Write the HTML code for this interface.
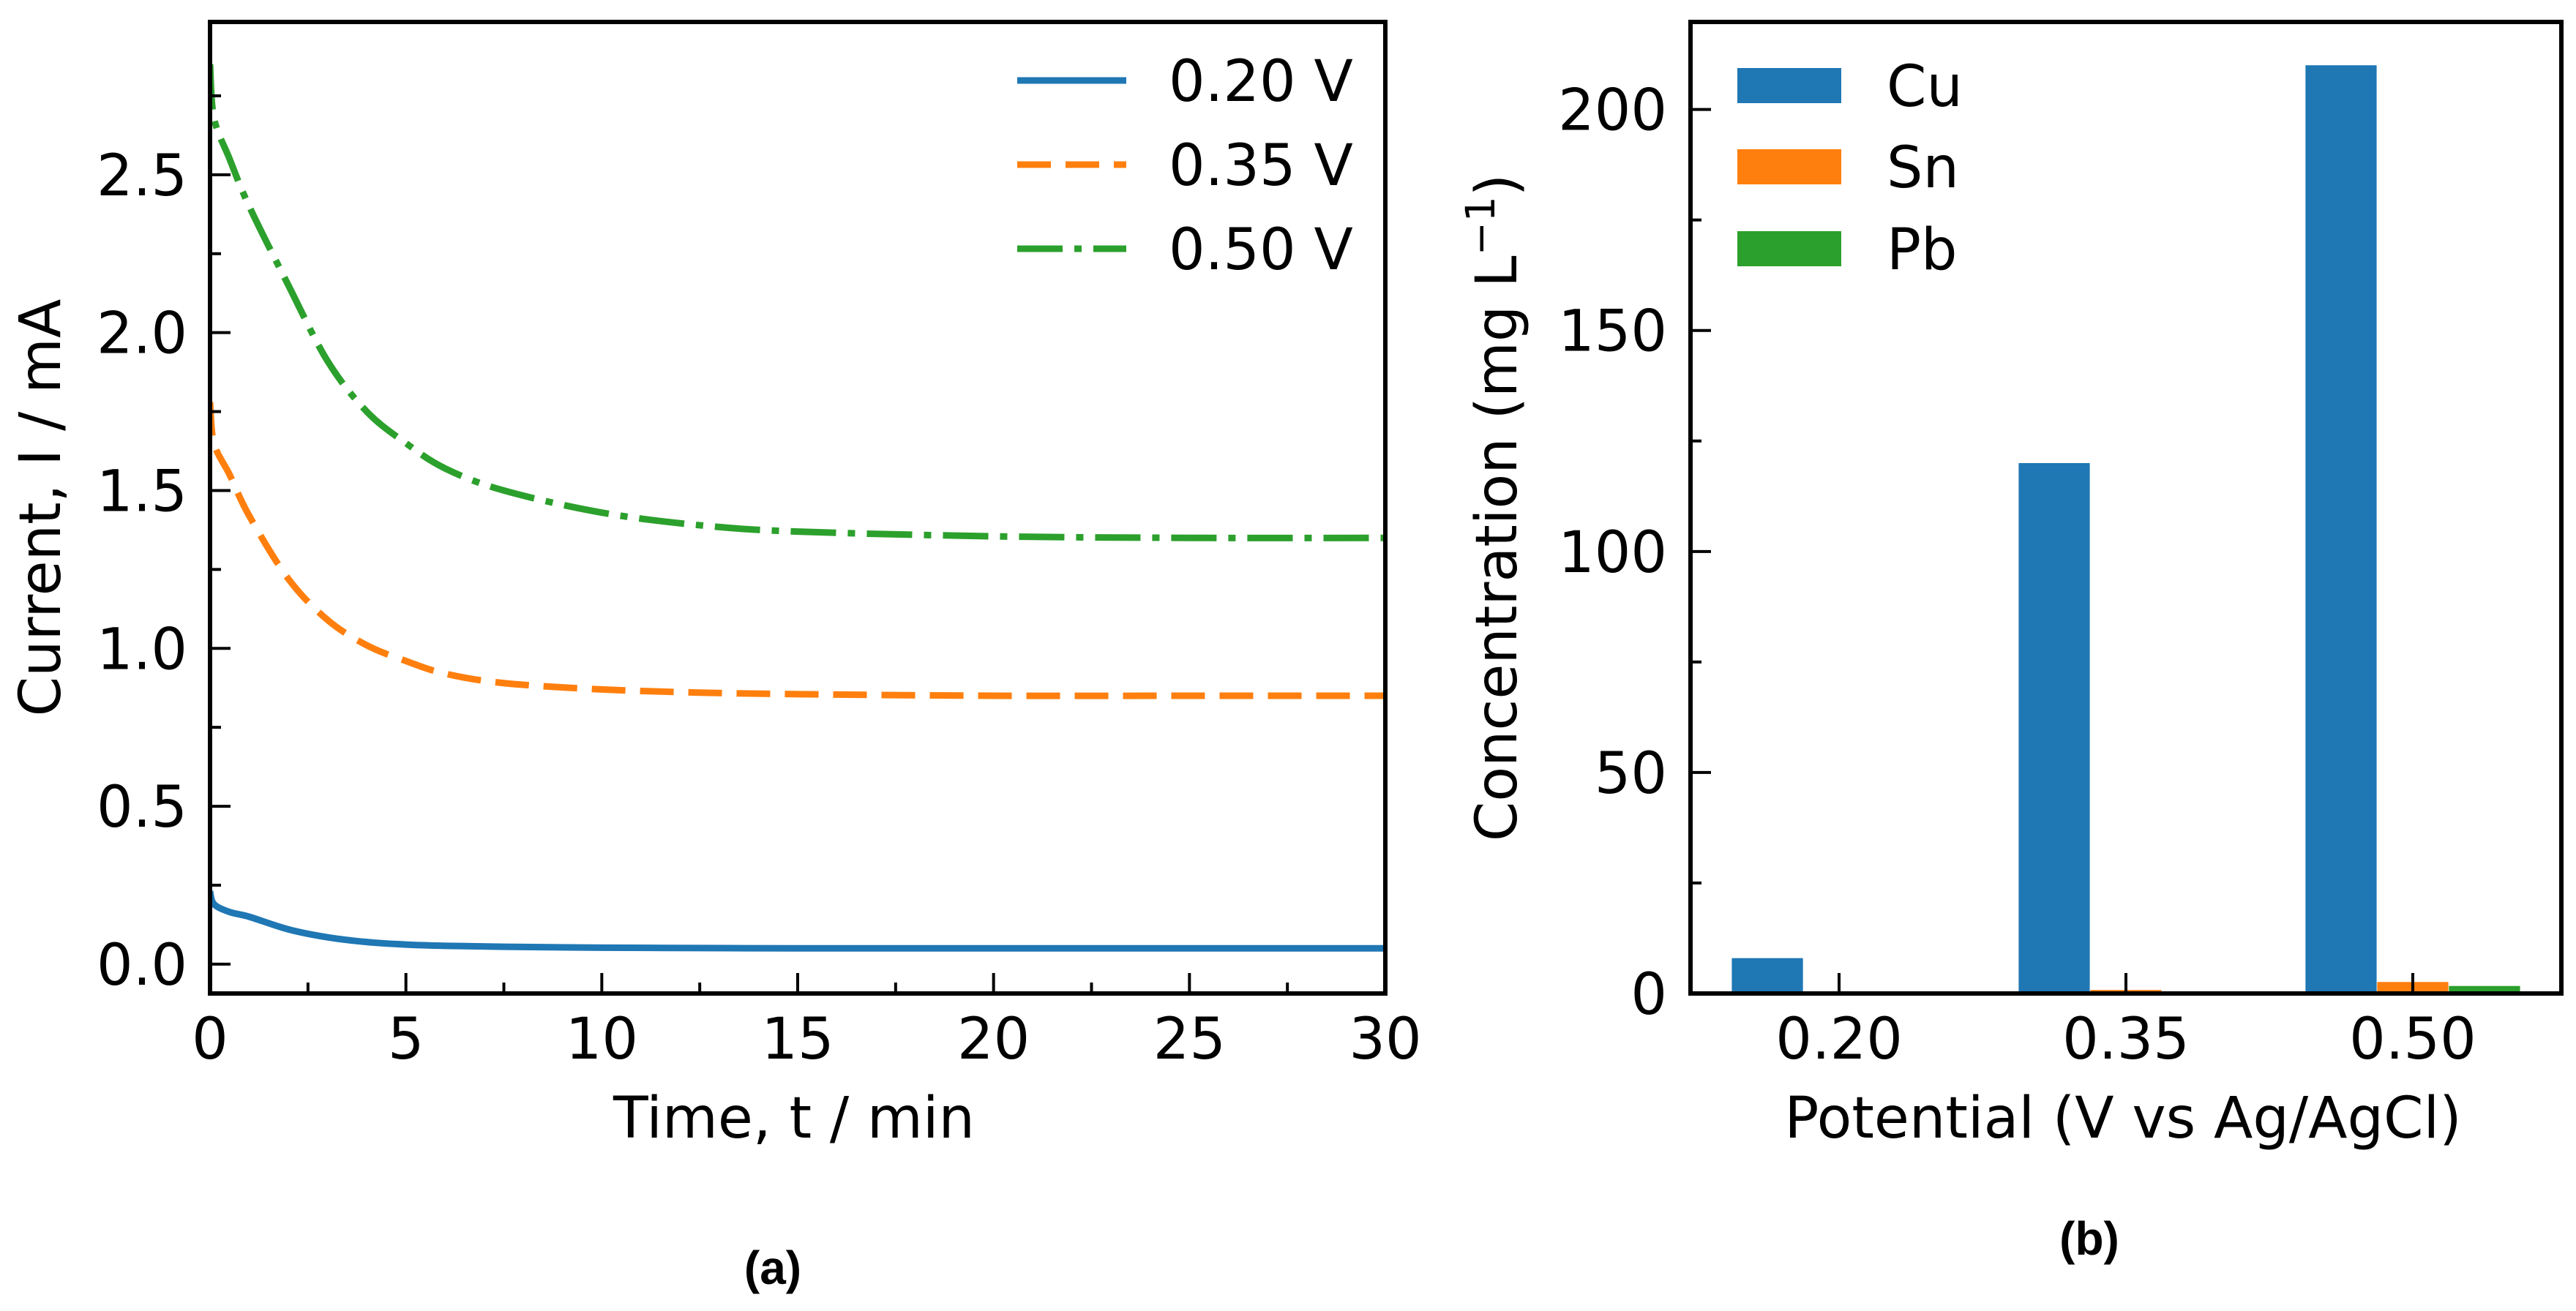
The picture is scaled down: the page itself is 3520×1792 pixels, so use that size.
<!DOCTYPE html>
<html><head><meta charset="utf-8"><style>
html,body{margin:0;padding:0;background:#fff}
svg{display:block}
text{font-family:"DejaVu Sans","Liberation Sans",sans-serif;fill:#000}
</style></head><body>
<svg id="fig" width="3520" height="1792" viewBox="0 0 3520 1792" xmlns="http://www.w3.org/2000/svg">
<g id="chartA"></g>
<g id="chartB"></g>
<text x="1056" y="1755" text-anchor="middle" font-size="64" font-weight="bold" style="font-family:'Liberation Sans',sans-serif">(a)</text>
<text x="2855" y="1715" text-anchor="middle" font-size="64" font-weight="bold" style="font-family:'Liberation Sans',sans-serif">(b)</text>
</svg>
<script>
// ---- Chart A data ----
const timeMin = [0, 0.1, 0.5, 1, 2, 3, 4, 5, 6, 7.5, 10, 12.5, 15, 20, 25, 30];
const current020 = [0.23, 0.19, 0.165, 0.15, 0.11, 0.085, 0.07, 0.062, 0.058, 0.055, 0.052, 0.051, 0.05, 0.05, 0.05, 0.05];
const current035 = [1.78, 1.65, 1.55, 1.42, 1.22, 1.09, 1.01, 0.96, 0.92, 0.89, 0.87, 0.86, 0.855, 0.85, 0.85, 0.85];
const current050 = [2.85, 2.68, 2.55, 2.40, 2.15, 1.91, 1.75, 1.65, 1.57, 1.50, 1.43, 1.39, 1.37, 1.355, 1.35, 1.35];
const xTicksA = [0, 5, 10, 15, 20, 25, 30];
const yTicksA = [0.0, 0.5, 1.0, 1.5, 2.0, 2.5];
const legendA = ["0.20 V", "0.35 V", "0.50 V"];
// ---- Chart B data ----
const potentials = ["0.20", "0.35", "0.50"];
const cuValues = [8, 120, 210];
const snValues = [0, 0.8, 2.6];
const pbValues = [0, 0, 1.7];
const yTicksB = [0, 50, 100, 150, 200];
const legendB = ["Cu", "Sn", "Pb"];

const NS = "http://www.w3.org/2000/svg";
function mk(parent, tag, attrs) {
  const e = document.createElementNS(NS, tag);
  for (const k in attrs) e.setAttribute(k, attrs[k]);
  parent.appendChild(e);
  return e;
}
const C = ["#1f77b4", "#ff7f0e", "#2ca02c"];

// ---- Chart A ----
(function () {
  const g = document.getElementById("chartA");
  const L = 287, R = 1893, T = 30, B = 1358;
  const xmin = 0, xmax = 30, ymin = -0.093, ymax = 2.984;
  const sx = v => L + (v - xmin) / (xmax - xmin) * (R - L);
  const sy = v => B - (v - ymin) / (ymax - ymin) * (B - T);
  const series = [current020, current035, current050];
  const dashes = ["none", "46 20", "62 16 10 16"];
  const names = ["line-0-20v", "line-0-35v", "line-0-50v"];
  const clip = mk(g, "clipPath", {id: "clipA"});
  mk(clip, "rect", {x: L, y: T, width: R - L, height: B - T});
  series.forEach((s, i) => {
    const pts = timeMin.map((t, j) => [sx(t), sy(s[j])]);
    let d = "M" + pts[0][0] + "," + pts[0][1];
    for (let j = 0; j < pts.length - 1; j++) {
      const p0 = pts[Math.max(0, j - 1)], p1 = pts[j], p2 = pts[j + 1], p3 = pts[Math.min(pts.length - 1, j + 2)];
      const c1x = p1[0] + (p2[0] - p0[0]) / 6, c1y = p1[1] + (p2[1] - p0[1]) / 6;
      const c2x = p2[0] - (p3[0] - p1[0]) / 6, c2y = p2[1] - (p3[1] - p1[1]) / 6;
      d += " C" + c1x + "," + c1y + " " + c2x + "," + c2y + " " + p2[0] + "," + p2[1];
    }
    const p = mk(g, "path", {d: d, fill: "none", stroke: C[i], "stroke-width": 9, "stroke-dasharray": dashes[i], "clip-path": "url(#clipA)"});
    
    
  });
  for (let v = 0; v <= 30; v += 2.5) {
    const maj = xTicksA.includes(v);
    const t = mk(g, "line", {x1: sx(v), x2: sx(v), y1: B, y2: B - (maj ? 28 : 15), stroke: "#000", "stroke-width": 4});
    
    
  }
  xTicksA.forEach(v => {
    const t = mk(g, "text", {x: sx(v), y: 1447, "text-anchor": "middle", "font-size": 78});
    t.textContent = String(v);
    
    
  });
  for (let k = 0; k <= 11; k++) {
    const v = k * 0.25;
    const maj = k % 2 === 0;
    const t = mk(g, "line", {x1: L, x2: L + (maj ? 28 : 15), y1: sy(v), y2: sy(v), stroke: "#000", "stroke-width": 4});
    
    
  }
  yTicksA.forEach(v => {
    const t = mk(g, "text", {x: 256, y: sy(v) + 28, "text-anchor": "end", "font-size": 78});
    t.textContent = v.toFixed(1);
    
    
  });
  const fr = mk(g, "rect", {x: L, y: T, width: R - L, height: B - T, fill: "none", stroke: "#000", "stroke-width": 6});
  
  
  const xl = mk(g, "text", {x: 1085, y: 1555, "text-anchor": "middle", "font-size": 78});
  xl.textContent = "Time, t / min";
  
  
  const yl = mk(g, "text", {x: 0, y: 0, "text-anchor": "middle", "font-size": 78, transform: "translate(82,694) rotate(-90)"});
  yl.textContent = "Current, I / mA";
  
  
  const rows = [110, 225, 340];
  legendA.forEach((s, i) => {
    const ln = mk(g, "line", {x1: 1390, x2: 1539, y1: rows[i], y2: rows[i], stroke: C[i], "stroke-width": 9, "stroke-dasharray": dashes[i]});
    
    
    const t = mk(g, "text", {x: 1597, y: rows[i] + 28, "font-size": 78});
    t.textContent = s;
    
    
  });
})();

// ---- Chart B ----
(function () {
  const g = document.getElementById("chartB");
  const L = 2310, R = 3500, T = 30, B = 1358;
  const xmin = -0.518, xmax = 2.518, ymin = 0, ymax = 219.8;
  const sx = v => L + (v - xmin) / (xmax - xmin) * (R - L);
  const sy = v => B - (v - ymin) / (ymax - ymin) * (B - T);
  const w = 0.248;
  const groups = [cuValues, snValues, pbValues];
  const names = ["bar-cu", "bar-sn", "bar-pb"];
  groups.forEach((vals, si) => {
    vals.forEach((v, i) => {
      if (v <= 0) return;
      const xc = i + (si - 1) * 0.25;
      const r = mk(g, "rect", {x: sx(xc - w / 2), y: sy(v), width: sx(xc + w / 2) - sx(xc - w / 2), height: sy(0) - sy(v), fill: C[si]});
      
      
    });
  });
  potentials.forEach((p, i) => {
    const t = mk(g, "line", {x1: sx(i), x2: sx(i), y1: B, y2: B - 28, stroke: "#000", "stroke-width": 4});
    
    
    const tl = mk(g, "text", {x: sx(i), y: 1447, "text-anchor": "middle", "font-size": 78});
    tl.textContent = p;
    
    
  });
  for (let v = 0; v <= 200; v += 25) {
    const maj = v % 50 === 0;
    const t = mk(g, "line", {x1: L, x2: L + (maj ? 28 : 15), y1: sy(v), y2: sy(v), stroke: "#000", "stroke-width": 4});
    
    
  }
  yTicksB.forEach(v => {
    const t = mk(g, "text", {x: 2278, y: sy(v) + 28, "text-anchor": "end", "font-size": 78});
    t.textContent = String(v);
    
    
  });
  const fr = mk(g, "rect", {x: L, y: T, width: R - L, height: B - T, fill: "none", stroke: "#000", "stroke-width": 6});
  
  
  const xl = mk(g, "text", {x: 2901, y: 1555, "text-anchor": "middle", "font-size": 78});
  xl.textContent = "Potential (V vs Ag/AgCl)";
  
  
  const yl = mk(g, "text", {x: 0, y: 0, "text-anchor": "middle", "font-size": 78, transform: "translate(2072,694) rotate(-90)"});
  yl.innerHTML = 'Concentration (mg L<tspan dy="-30" font-size="55">−1</tspan><tspan dy="30">)</tspan>';
  
  
  const rows = [117, 228, 340];
  legendB.forEach((s, i) => {
    const r = mk(g, "rect", {x: 2374, y: rows[i] - 24, width: 142, height: 48, fill: C[i]});
    
    
    const t = mk(g, "text", {x: 2578, y: rows[i] + 28, "font-size": 78});
    t.textContent = s;
    
    
  });
})();
</script>
</body></html>
